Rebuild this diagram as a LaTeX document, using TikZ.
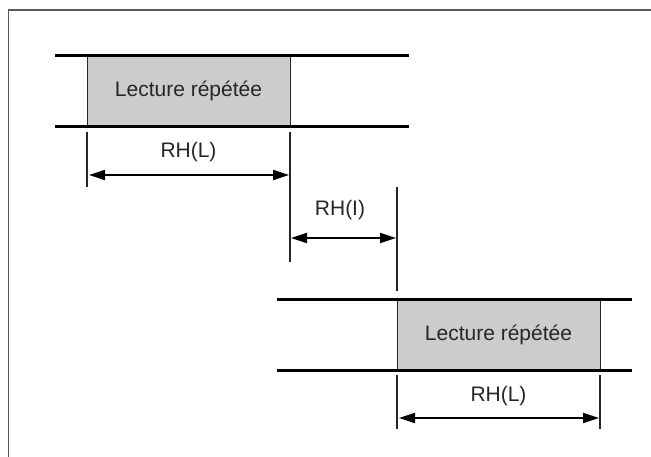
\documentclass[tikz,border=0pt]{standalone}
\usepackage{fontspec}
\setmainfont{Liberation Sans}
\usetikzlibrary{arrows.meta}
\begin{document}
\begin{tikzpicture}[x=1pt,y=-1pt,
  track/.style={line width=3pt,black},
  readbox/.style={draw=black!85,line width=1pt,fill=black!20,minimum width=203pt,minimum height=71pt,inner sep=0pt,text=black!85,font=\fontsize{21}{25}\selectfont},
  ext/.style={line width=1.2pt,black!85},
  dimarrow/.style={line width=2pt,black,{Triangle[length=16pt,width=10pt]}-{Triangle[length=16pt,width=10pt]}},
  dimlabel/.style={text=black!85,font=\fontsize{21}{25}\selectfont,inner sep=0pt}]
\useasboundingbox (0,0) rectangle (651,456);
\draw[line width=1.5pt,black!65] (652,10) -- (8.5,10) -- (8.5,457);
% first block
\node[readbox] (b1) at (188.5,90.5) {Lecture répétée};
\draw[track] (55,55) -- (409,55);
\draw[track] (55,126) -- (409,126);
\coordinate (e1a) at (87,132);
\coordinate (e1b) at (87,187);
\coordinate (e2a) at (290,132);
\coordinate (e2b) at (290,262);
\draw[ext] (e1a) -- (e1b);
\draw[ext] (e2a) -- (e2b);
\coordinate (a1l) at (89,175);
\coordinate (a1r) at (289,175);
\draw[dimarrow] (a1l) -- (a1r);
\node[dimlabel] (l1) at (188.5,152) {RH(L)};
% interval
\coordinate (e3a) at (397,187);
\coordinate (e3b) at (397,291);
\draw[ext] (e3a) -- (e3b);
\coordinate (a2l) at (291,238);
\coordinate (a2r) at (396,238);
\draw[dimarrow] (a2l) -- (a2r);
\node[dimlabel] (l2) at (340,210) {RH(I)};
% second block
\node[readbox] (b2) at (498.5,334.5) {Lecture répétée};
\draw[track] (277,299) -- (632,299);
\draw[track] (277,370) -- (632,370);
\coordinate (e4a) at (397,375);
\coordinate (e4b) at (397,429);
\coordinate (e5a) at (600,375);
\coordinate (e5b) at (600,429);
\draw[ext] (e4a) -- (e4b);
\draw[ext] (e5a) -- (e5b);
\coordinate (a3l) at (399,418);
\coordinate (a3r) at (599,418);
\draw[dimarrow] (a3l) -- (a3r);
\node[dimlabel] (l3) at (498.5,396) {RH(L)};
\end{tikzpicture}
\end{document}
